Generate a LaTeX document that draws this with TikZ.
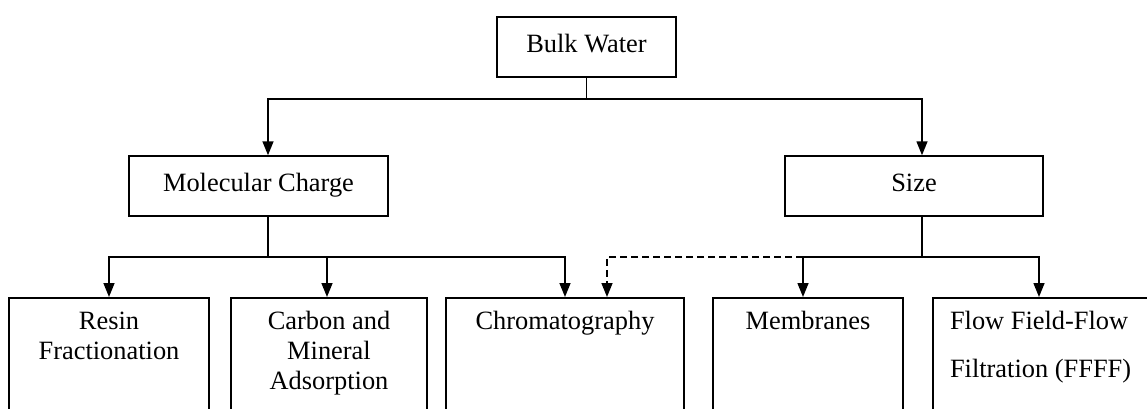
\documentclass[tikz,border=0pt]{standalone}
\usepackage{fontspec}
\setmainfont{Liberation Serif}
\usetikzlibrary{arrows.meta}
\tikzset{
    % boxes of the two upper levels, text centred
    levelbox/.style={
        draw,
        minimum height=30pt,
        inner sep=0pt,
        text height=8pt,
        text depth=3pt,
    },
    % boxes of the lowest level, text on top, bottom cut off by the page
    leafbox/.style={
        draw,
        anchor=north,
        align=flush center,
        inner xsep=0pt,
        inner ysep=7pt,
        text height=9pt,
        text depth=60pt,
    },
    link/.style={
        -{Triangle[length=7pt,width=5.5pt]},
    },
}

\begin{document}
\begin{tikzpicture}[x=0.5pt, y=-0.5pt, line width=0.75pt,
    font=\fontsize{13.2}{15}\selectfont]
    \useasboundingbox (0,0) rectangle (1147,408);

    % Top level
    \node[levelbox, minimum width=89.5pt] (bulk) at (586.5,47) {Bulk Water};

    % Second level
    \node[levelbox, minimum width=129.5pt] (mol) at (258.5,186) {Molecular Charge};
    \node[levelbox, minimum width=129pt] (size) at (914,186) {Size};

    % Lowest level
    \node[leafbox, text width=100pt] (resin) at (109,297) {Resin\\Fractionation};
    \node[leafbox, text width=98pt] (carbon) at (329,297) {Carbon and\\Mineral\\Adsorption};
    \node[leafbox, text width=119pt] (chrom) at (565,297) {Chromatography};
    \node[leafbox, text width=95pt] (memb) at (808,297) {Membranes};
    \node[leafbox, align=flush left, inner xsep=8.5pt, text width=96.5pt] (ffff) at (1046.5,297)
      {Flow Field-Flow\\[9pt]Filtration (FFFF)};

    % Bulk water to the two criteria
    \draw (bulk.south) -- ++(0,21) coordinate (split);
    \draw[link] (split) -| ([xshift=4.75pt]mol.north);
    \draw[link] (split) -| ([xshift=4pt]size.north);

    % Molecular charge to its methods
    \draw ([xshift=4.75pt]mol.south) -- ++(0,40) coordinate (molbus);
    \draw[link] (molbus) -| (resin.north);
    \draw[link] (molbus) -| ([xshift=-1pt]carbon.north);
    \draw[link] (molbus) -| (chrom.north);

    % Size to its methods
    \draw ([xshift=4pt]size.south) -- ++(0,40) coordinate (sizebus);
    \draw[link] (sizebus) -| ([xshift=-2.5pt]memb.north);
    \draw[link] (sizebus) -| ([xshift=-3.75pt]ffff.north);
    \draw[link, dash pattern=on 3.5pt off 2pt]
      ([xshift=-2.5pt]memb.north |- sizebus) -| ([xshift=21pt]chrom.north);
  \end{tikzpicture}
\end{document}
